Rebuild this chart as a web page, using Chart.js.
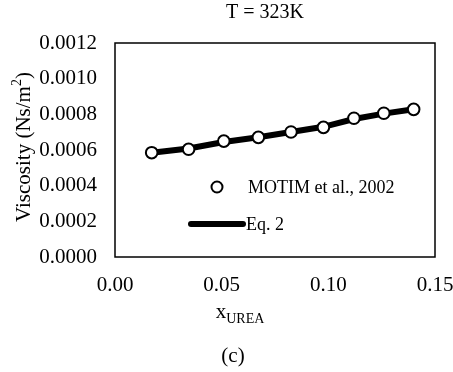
<!DOCTYPE html>
<html>
<head>
<meta charset="utf-8">
<script src="https://cdn.jsdelivr.net/npm/chart.js@4"></script>
<style>
  html, body { margin: 0; padding: 0; background: #fff; }
  #wrap { width: 453px; height: 372px; }
</style>
</head>
<body>
<div id="wrap"><canvas id="myChart" width="453" height="372"></canvas></div>
<script>
// data
var xUrea = [0.0172, 0.0345, 0.051, 0.0672, 0.0825, 0.0977, 0.112, 0.126, 0.140];
var motimVisc = [0.000585, 0.000604, 0.000650, 0.000671, 0.000701, 0.000727, 0.000778, 0.000806, 0.000828];
var eq2Visc = [0.000585, 0.000608, 0.000645, 0.000672, 0.000701, 0.000730, 0.000774, 0.000804, 0.000828];
var yTicks = [0, 0.0002, 0.0004, 0.0006, 0.0008, 0.0010, 0.0012];
var xTicks = [0, 0.05, 0.10, 0.15];

var FONT = '"Liberation Serif", "Times New Roman", serif';

function toPoints(xs, ys) {
    return xs.map(function (x, i) { return { x: x, y: ys[i] }; });
}

// box, titles and legend drawn on top of the chart
var extras = {
    id: 'extras',
    afterDraw: function (chart) {
        var c = chart.ctx;
        var a = chart.chartArea;
        c.save();
        c.strokeStyle = '#000';
        c.lineWidth = 1.5;
        c.strokeRect(a.left, a.top, a.right - a.left, a.bottom - a.top);

        c.fillStyle = '#000';
        c.textBaseline = 'middle';
        c.textAlign = 'center';
        c.font = '20px ' + FONT;
        c.fillText('T = 323K', 265, 13);
        c.font = '21px ' + FONT;
        c.fillText('(c)', 233, 356);

        // x axis title with subscript
        c.font = '21px ' + FONT;
        var w1 = c.measureText('x').width;
        c.font = '14px ' + FONT;
        var w2 = c.measureText('UREA').width;
        var sx = 240 - (w1 + w2) / 2;
        c.textAlign = 'left';
        c.font = '21px ' + FONT;
        c.fillText('x', sx, 312);
        c.font = '14px ' + FONT;
        c.fillText('UREA', sx + w1, 319);

        // y axis title with superscript
        c.save();
        c.translate(24, 147);
        c.rotate(-Math.PI / 2);
        c.font = '21px ' + FONT;
        var t1 = 'Viscosity (Ns/m';
        var tw1 = c.measureText(t1).width;
        c.font = '14px ' + FONT;
        var tw2 = c.measureText('2').width;
        c.font = '21px ' + FONT;
        var tw3 = c.measureText(')').width;
        var st = -(tw1 + tw2 + tw3) / 2;
        c.fillText(t1, st, 0);
        c.font = '14px ' + FONT;
        c.fillText('2', st + tw1, -7);
        c.font = '21px ' + FONT;
        c.fillText(')', st + tw1 + tw2, 0);
        c.restore();

        // legend
        c.beginPath();
        c.arc(217, 187, 5.5, 0, Math.PI * 2);
        c.fillStyle = '#fff';
        c.fill();
        c.lineWidth = 2;
        c.strokeStyle = '#000';
        c.stroke();
        c.fillStyle = '#000';
        c.font = '18px ' + FONT;
        c.fillText('MOTIM et al., 2002', 248, 188);

        c.beginPath();
        c.moveTo(191, 224);
        c.lineTo(243, 224);
        c.lineWidth = 6;
        c.lineCap = 'round';
        c.stroke();
        c.fillText('Eq. 2', 246, 225);
        c.restore();
    }
};

var ctx = document.getElementById('myChart').getContext('2d');
var myChart = new Chart(ctx, {
    type: 'scatter',
    data: {
        datasets: [{
            label: 'MOTIM et al., 2002',
            data: toPoints(xUrea, motimVisc),
            showLine: false,
            pointRadius: 5.8,
            pointBackgroundColor: '#fff',
            pointBorderColor: '#000',
            pointBorderWidth: 2,
            order: 0
        }, {
            label: 'Eq. 2',
            data: toPoints(xUrea, eq2Visc),
            showLine: true,
            borderColor: '#000',
            borderWidth: 6,
            pointRadius: 0,
            order: 1
        }]
    },
    options: {
        responsive: false,
        animation: false,
        layout: { padding: { left: 0, top: 43, right: 0, bottom: 0 } },
        plugins: {
            legend: { display: false },
            tooltip: { enabled: false }
        },
        scales: {
            x: {
                type: 'linear',
                min: 0,
                max: 0.15,
                afterFit: function (s) { s.height = 115; s.paddingRight = 18; },
                afterBuildTicks: function (s) { s.ticks = xTicks.map(function (v) { return { value: v }; }); },
                grid: { display: false, drawTicks: false },
                border: { display: false },
                ticks: {
                    padding: 16,
                    color: '#000',
                    font: { family: FONT, size: 21 },
                    maxRotation: 0,
                    callback: function (v) { return v.toFixed(2); }
                }
            },
            y: {
                min: 0,
                max: 0.0012,
                afterFit: function (s) { s.width = 115; },
                afterBuildTicks: function (s) { s.ticks = yTicks.map(function (v) { return { value: v }; }); },
                grid: { display: false, drawTicks: false },
                border: { display: false },
                ticks: {
                    padding: 18,
                    color: '#000',
                    font: { family: FONT, size: 21 },
                    callback: function (v) { return v.toFixed(4); }
                }
            }
        }
    },
    plugins: [extras]
});
</script>
</body>
</html>
